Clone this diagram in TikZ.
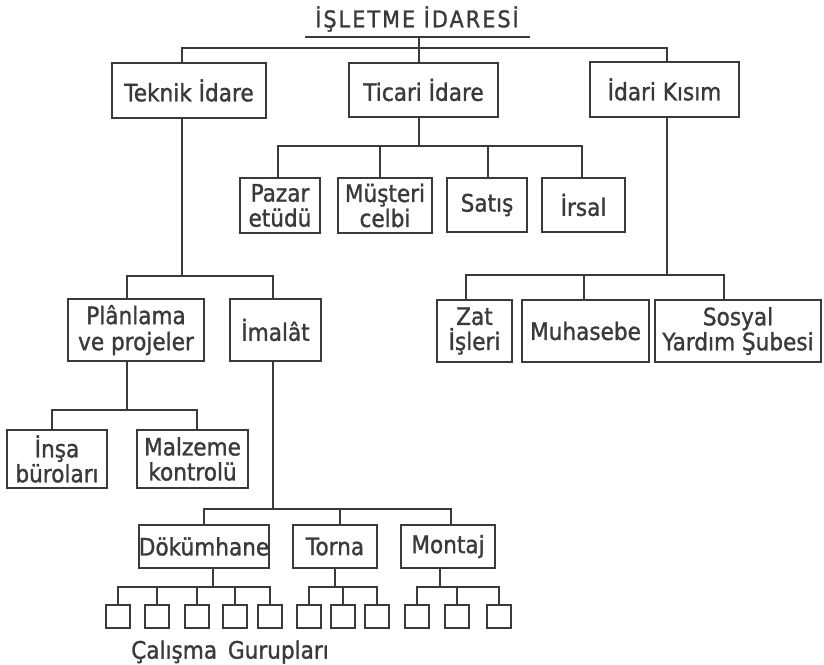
\documentclass[tikz,border=0pt]{standalone}
\usepackage{fontspec}
\setmainfont{DejaVu Sans}[FakeStretch=0.9,FakeBold=1.2]
\definecolor{ink}{RGB}{58,58,58}
\begin{document}
\begin{tikzpicture}[x=1pt,y=-1pt,color=ink,line width=2pt,
  box/.style={draw=ink,line width=2pt,inner sep=0pt,align=center,text=ink,
    font=\fontsize{24}{25}\selectfont},
  small/.style={draw=ink,line width=2pt,inner sep=0pt,minimum width=24pt,minimum height=23pt},
  lbl/.style={inner sep=0pt,text=ink,font=\fontsize{24}{25}\selectfont}]
\fill[white] (0,0) rectangle (824,664);
\useasboundingbox (0,0) rectangle (824,664);
% title
\node[lbl,font=\fontsize{23}{24}\selectfont\addfontfeature{LetterSpace=9}] (title) at (417,19) {İŞLETME İDARESİ};
\coordinate (ul1) at (305,37);
\coordinate (ul2) at (530,37);
\draw (ul1) -- (ul2);
% level 1
\node[box,minimum width=154pt,minimum height=55pt] (teknik) at (189,90.5) {Teknik İdare};
\node[box,minimum width=149pt,minimum height=54pt] (ticari) at (423.5,90) {Ticari İdare};
\node[box,minimum width=149pt,minimum height=55pt] (idari) at (664.5,89.5) {İdari Kısım};
% ticari children
\node[box,minimum width=80pt,minimum height=55pt] (pazar) at (280,205.5) {Pazar\\etüdü};
\node[box,minimum width=94pt,minimum height=55pt] (musteri) at (385,205.5) {Müşteri\\celbi};
\node[box,minimum width=80pt,minimum height=54pt] (satis) at (487,205) {Satış};
\node[box,minimum width=83pt,minimum height=54pt] (irsal) at (583.5,205) {İrsal};
% teknik children
\node[box,minimum width=136pt,minimum height=62pt,font=\fontsize{24}{26}\selectfont] (planlama) at (136,330) {Plânlama\\ve projeler};
\node[box,minimum width=91pt,minimum height=62pt] (imalat) at (275.5,330) {İmalât};
\node[box,minimum width=100pt,minimum height=58pt] (insa) at (57,459) {İnşa\\büroları};
\node[box,minimum width=111pt,minimum height=58pt] (malzeme) at (192.5,459) {Malzeme\\kontrolü};
% idari children
\node[box,minimum width=75pt,minimum height=62pt] (zat) at (474.5,331) {Zat\\İşleri};
\node[box,minimum width=127pt,minimum height=62pt] (muhasebe) at (585.5,331) {Muhasebe};
\node[box,minimum width=166pt,minimum height=62pt] (sosyal) at (738,331) {Sosyal\\Yardım Şubesi};
% imalat children
\node[box,minimum width=130pt,minimum height=43pt] (dokum) at (204,546.5) {Dökümhane};
\node[box,minimum width=84pt,minimum height=43pt] (torna) at (335,546.5) {Torna};
\node[box,minimum width=94pt,minimum height=43pt] (montaj) at (448,546.5) {Montaj};
% working groups
\foreach \n/\x in {1/118,2/157,3/197,4/235,5/270,6/309,7/343,8/377,9/416.5,10/456.5,11/499}
  \node[small] (s\n) at (\x,616.5) {};
\node[lbl] (cal) at (230,652) {Çalışma\, Gurupları};
% connectors
\coordinate (b0) at (419,48);
\draw (ticari.north -| b0) -- (b0 |- ul1);
\draw ([xshift=-7pt]teknik.north) |- (b0);
\draw ([xshift=2.5pt]idari.north) |- (b0);
\coordinate (b1) at (419,146);
\draw (ticari.south -| b1) -- (b1);
\draw ([xshift=-2pt]pazar.north) |- (b1);
\draw ([xshift=-5pt]musteri.north) |- (b1);
\draw ([xshift=1pt]satis.north) |- (b1);
\draw ([xshift=-1.5pt]irsal.north) |- (b1);
\coordinate (b2) at (182,276);
\draw ([xshift=-7pt]teknik.south) -- (b2);
\draw ([xshift=-9pt]planlama.north) |- (b2);
\draw ([xshift=-2.5pt]imalat.north) |- (b2);
\coordinate (b3) at (127,410);
\draw ([xshift=-9pt]planlama.south) -- (b3);
\draw ([xshift=-5pt]insa.north) |- (b3);
\draw ([xshift=4.5pt]malzeme.north) |- (b3);
\coordinate (b4) at (667,275);
\draw ([xshift=2.5pt]idari.south) -- (b4);
\draw ([xshift=-8.5pt]zat.north) |- (b4);
\draw ([xshift=-1.5pt]muhasebe.north) |- (b4);
\draw ([xshift=-14pt]sosyal.north) |- (b4);
\coordinate (b5) at (273,509);
\draw ([xshift=-2.5pt]imalat.south) -- (b5);
\draw (dokum.north) |- (b5);
\draw ([xshift=5pt]torna.north) |- (b5);
\draw ([xshift=3pt]montaj.north) |- (b5);
\coordinate (b6) at (213,587);
\draw ([xshift=9pt]dokum.south) -- (b6);
\foreach \n in {1,...,5} \draw (s\n.north) |- (b6);
\coordinate (b7) at (335,587);
\draw (torna.south) -- (b7);
\foreach \n in {6,7,8} \draw (s\n.north) |- (b7);
\coordinate (b8) at (440,587);
\draw ([xshift=-8pt]montaj.south) -- (b8);
\foreach \n in {9,10,11} \draw (s\n.north) |- (b8);
\end{tikzpicture}
\end{document}
